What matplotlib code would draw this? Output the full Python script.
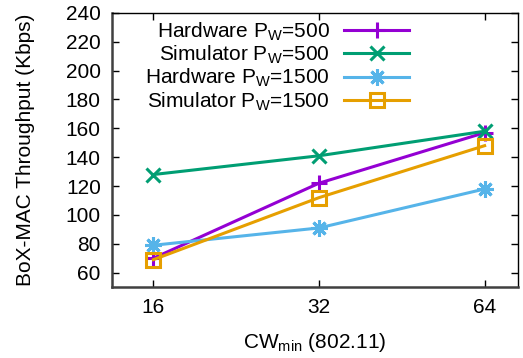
import matplotlib
matplotlib.use("Agg")
import matplotlib.pyplot as plt
from matplotlib.ticker import FixedLocator, NullLocator

plt.rcParams["font.family"] = ["Liberation Sans", "DejaVu Sans"]
plt.rcParams["mathtext.fontset"] = "custom"
plt.rcParams["mathtext.rm"] = "Liberation Sans"
plt.rcParams["mathtext.it"] = "Liberation Sans"
plt.rcParams["font.size"] = 15

cw_min = [16, 32, 64]
hw_500 = [70, 122, 157]
sim_500 = [128, 141, 158]
hw_1500 = [79, 91, 118]
sim_1500 = [69, 112, 148]

labels = [r"Hardware P$_{\mathrm{W}}$=500", r"Simulator P$_{\mathrm{W}}$=500",
          r"Hardware P$_{\mathrm{W}}$=1500", r"Simulator P$_{\mathrm{W}}$=1500"]
y_ticks = [60, 80, 100, 120, 140, 160, 180, 200, 220, 240]

fig = plt.figure(figsize=(5.23, 3.58), dpi=100)
ax = fig.add_axes([0.214, 0.198, 0.776, 0.766])

ax.plot(cw_min, hw_500, color="#9400D3", lw=2.2, marker="+", ms=12, mew=2.2, label=labels[0])
ax.plot(cw_min, sim_500, color="#009E73", lw=2.2, marker="x", ms=10, mew=2.2, label=labels[1])
ax.plot(cw_min, hw_1500, color="#56B4E9", lw=2.2, marker=(8, 2, 0), ms=12, mew=2.2, label=labels[2])
ax.plot(cw_min, sim_1500, color="#E69F00", lw=2.2, marker="s", ms=10.5, mew=2.2,
        mfc="none", label=labels[3])

ax.set_xscale("log", base=2)
ax.set_xlim(2 ** 3.75, 2 ** 6.2)
ax.set_ylim(50, 240)
ax.xaxis.set_major_locator(FixedLocator(cw_min))
ax.xaxis.set_minor_locator(NullLocator())
ax.set_xticklabels([str(v) for v in cw_min])
ax.set_yticks(y_ticks)

ax.tick_params(direction="in", length=5, width=1, top=True, right=True,
               labelsize=15, pad=8)
for side in ("left", "bottom"):
    ax.spines[side].set_linewidth(1.8)
    ax.spines[side].set_color("#404040")
for side in ("top", "right"):
    ax.spines[side].set_linewidth(1.0)
    ax.spines[side].set_color("black")

ax.set_xlabel(r"CW$_{\mathrm{min}}$ (802.11)", fontsize=15, labelpad=10)
ax.set_ylabel("BoX-MAC Throughput (Kbps)", fontsize=15, labelpad=22)

ax.legend(loc="upper right", bbox_to_anchor=(0.765, 1.022), frameon=False,
          markerfirst=False, handlelength=3.1, handletextpad=0.7,
          labelspacing=0.05, borderpad=0.15, fontsize=15)

fig.savefig("out.png", dpi=100)
